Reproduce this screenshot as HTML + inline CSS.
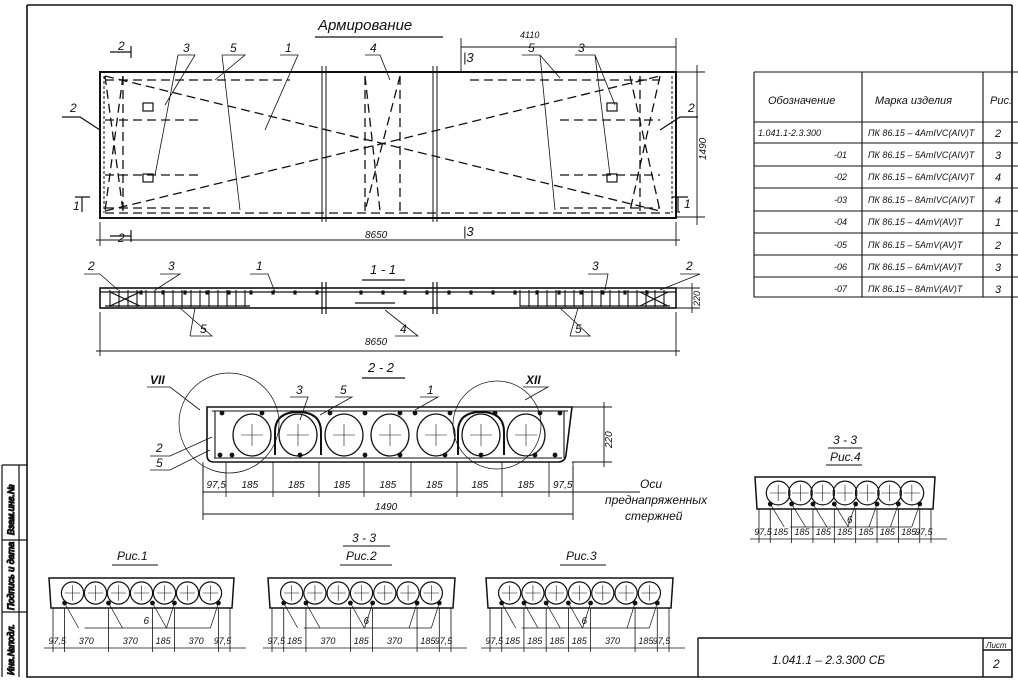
<!DOCTYPE html>
<html><head><meta charset="utf-8"><style>
html,body{margin:0;padding:0;background:#fff;width:1018px;height:685px;overflow:hidden}
svg{display:block}
text{font-family:"Liberation Sans Narrow","Liberation Sans",sans-serif;font-style:italic;fill:#111}
</style></head><body>
<svg id="s" width="1018" height="685" viewBox="0 0 1018 685" xmlns="http://www.w3.org/2000/svg" stroke="#111" fill="none" stroke-width="1.2">
<path d="M27 5 H1012 M27 5 V677 H1012 V5" stroke-width="1.6"/>
<path d="M2 465 H27 M2 465 V677 M2 540 H27 M2 612 H27 M19 465 V677" stroke-width="1.2"/>
<text x="0" y="0" font-size="9" transform="translate(14,535) rotate(-90)">Взам.инв.№</text>
<text x="0" y="0" font-size="9" transform="translate(14,610) rotate(-90)">Подпись и дата</text>
<text x="0" y="0" font-size="9" transform="translate(14,675) rotate(-90)">Инв.№подл.</text>

<text x="318" y="30" font-size="15" stroke="none">Армирование</text>
<path d="M315 37 H443"/>

<g id="plan">
<rect x="100" y="72" width="576" height="146" stroke-width="2"/>
<path d="M461 38 V72 M676 38 V72 M461 47 H676 M676 72 H705 M676 217 H705 M697 65 V225 M100 222 V246 M676 222 V246 M96 240 H680" stroke-width="0.9"/>
<path d="M322 66 V222 M326 66 V222 M433 66 V222 M437 66 V222" stroke-width="1"/>
<g stroke-dasharray="9 5" stroke-width="1.3">
<path d="M105 76 L660 211 M105 211 L660 76"/>
<path d="M105 76 L123 211 M123 76 L105 211 M630 76 L660 211 M660 76 L630 211"/>
<path d="M365 76 L380 211 M400 76 L365 211 M365 76 V211 M400 76 V211"/>
<path d="M105 80 H290 M105 120 H200 M105 175 H200 M105 208 H210 M123 76 V211 M640 76 V211"/>
<path d="M470 80 H660 M560 120 H660 M560 175 H660 M560 208 H660"/>
<path d="M105 213 H670"/>
</g>
<path d="M104 76 V213 M672 76 V213" stroke-dasharray="3 2" stroke-width="1"/>
<rect x="143" y="103" width="10" height="8"/><rect x="143" y="174" width="10" height="8"/>
<rect x="607" y="103" width="10" height="8"/><rect x="607" y="174" width="10" height="8"/>
</g>
<text x="520" y="38" font-size="9" stroke="none">4110</text>
<text x="365" y="238" font-size="10" stroke="none">8650</text>
<text x="0" y="0" font-size="10" stroke="none" transform="translate(706,160) rotate(-90)">1490</text>
<text x="463" y="62" font-size="13" stroke="none">|3</text>
<text x="463" y="236" font-size="13" stroke="none">|3</text>
<g font-size="12" stroke="none">
<text x="118" y="50">2</text><text x="183" y="52">3</text><text x="230" y="52">5</text><text x="285" y="52">1</text>
<text x="370" y="52">4</text><text x="528" y="52">5</text><text x="578" y="52">3</text>
<text x="70" y="112">2</text><text x="688" y="112">2</text><text x="73" y="210">1</text><text x="684" y="208">1</text><text x="118" y="242">2</text>
</g>
<path d="M110 52 H131 M131 46 V58 M110 236 H131 M131 230 V242 M82 197 V212 M75 197 H90 M678 197 V212 H680 M672 197 H688 M62 117 H80 L100 130 M698 117 H680 L660 130"/>
<path d="M178 55 H195 L165 105 M178 55 L155 175 M222 55 H245 L215 80 M222 55 L240 210 M280 55 H298 L265 130 M365 55 H380 L390 80 M522 55 H540 L560 78 M540 55 L555 210 M575 55 H595 L615 105 M595 55 L610 175" stroke-width="0.8"/>

<text x="370" y="274" font-size="13" stroke="none">1 - 1</text><path d="M362 280 H405"/>
<rect x="100" y="288" width="576" height="20" stroke-width="1.6"/>
<path d="M100 292 H676 M105 306 H250 M520 306 H670 M355 303 H395" stroke-width="1.3"/>
<path d="M322 282 V314 M326 282 V314 M433 282 V314 M437 282 V314" fill="none"/>
<path d="M676 288 H700 M676 308 H700 M692 283 V313 M100 312 V356 M676 312 V356 M96 351 H680" stroke-width="0.9"/>
<text x="0" y="0" font-size="9" stroke="none" transform="translate(700,306) rotate(-90)">220</text>
<text x="365" y="345" font-size="10" stroke="none">8650</text>
<g id="st" stroke-width="1.1"></g>
<path d="M110 292 L140 306 M140 292 L110 306 M640 292 L668 306 M668 292 L640 306"/>
<g font-size="12" stroke="none"><text x="88" y="270">2</text><text x="168" y="270">3</text><text x="256" y="270">1</text><text x="200" y="333">5</text><text x="400" y="333">4</text><text x="575" y="333">5</text><text x="592" y="270">3</text><text x="686" y="270">2</text></g>
<path d="M84 274 H100 L118 290 M160 274 H180 L155 290 M250 274 H268 L275 292 M190 336 H212 L180 308 M190 336 L195 308 M395 336 H418 L385 310 M570 336 H590 L560 308 M570 336 L578 308 M588 274 H608 L605 290 M680 274 H700 L660 290" stroke-width="0.8"/>

<text x="368" y="372" font-size="13" stroke="none">2 - 2</text><path d="M362 378 H405"/>
<path d="M207 407 H572 L566 455 Q565 462 558 462 H214 Q207 462 207 455 Z" stroke-width="1.6"/>
<path d="M212 411 H568 M214 458 H562 M215 411 V458 M564 411 V458" stroke-width="1.1"/>
<g id="c22"></g>
<path d="M572 407 H612 M572 462 H612 M604 402 V467" stroke-width="0.9"/>
<text x="0" y="0" font-size="10" stroke="none" transform="translate(612,448) rotate(-90)">220</text>
<path d="M203 492 H640 M203 514 H573 M203 466 V520 M573 466 V520" stroke-width="0.9"/>
<g id="d22" font-size="10" stroke="none"></g>
<text x="375" y="510" font-size="10" stroke="none">1490</text>
<g font-size="12" stroke="none"><text x="640" y="488">Оси</text><text x="605" y="504">преднапряженных</text><text x="625" y="520">стержней</text></g>
<circle cx="229" cy="423" r="50" stroke-width="0.7"/><circle cx="497" cy="425" r="44" stroke-width="0.7"/>
<g font-size="12" stroke="none"><text x="150" y="384" font-weight="bold" font-style="normal">VII</text><text x="526" y="384" font-weight="bold" font-style="normal">XII</text>
<text x="296" y="394">3</text><text x="340" y="394">5</text><text x="427" y="394">1</text><text x="156" y="452">2</text><text x="156" y="467">5</text></g>
<path d="M147 387 H170 L200 410 M523 387 H548 L525 400 M290 397 H308 L300 420 M335 397 H352 L320 415 M420 397 H438 L415 410 M150 456 H170 L212 437 M150 470 H170 L210 450" stroke-width="0.8"/>

<path d="M754 72 H1018 M754 72 V297 H1018 M862 72 V297 M983 72 V297 M754 122 H1018 M754 143 H1018 M754 166 H1018 M754 188 H1018 M754 211 H1018 M754 233 H1018 M754 255 H1018 M754 277 H1018" stroke-width="1.1"/>
<g font-size="11" stroke="none">
<text x="768" y="104">Обозначение</text><text x="875" y="104">Марка изделия</text><text x="990" y="104">Рис.</text>
<g font-size="9">
<text x="758" y="136">1.041.1-2.3.300</text>
<text x="834" y="158">-01</text><text x="834" y="180">-02</text><text x="834" y="203">-03</text><text x="834" y="225">-04</text><text x="834" y="248">-05</text><text x="834" y="270">-06</text><text x="834" y="292">-07</text>
<text x="868" y="136">ПК 86.15 – 4AтIVC(AIV)T</text>
<text x="868" y="158">ПК 86.15 – 5AтIVC(AIV)T</text>
<text x="868" y="180">ПК 86.15 – 6AтIVC(AIV)T</text>
<text x="868" y="203">ПК 86.15 – 8AтIVC(AIV)T</text>
<text x="868" y="225">ПК 86.15 – 4AтV(AV)T</text>
<text x="868" y="248">ПК 86.15 – 5AтV(AV)T</text>
<text x="868" y="270">ПК 86.15 – 6AтV(AV)T</text>
<text x="868" y="292">ПК 86.15 – 8AтV(AV)T</text>
</g>
<g font-size="11"><text x="995" y="137">2</text><text x="995" y="159">3</text><text x="995" y="181">4</text><text x="995" y="204">4</text><text x="995" y="226">1</text><text x="995" y="249">2</text><text x="995" y="271">3</text><text x="995" y="293">3</text></g>
</g>

<g font-size="12" stroke="none">
<text x="833" y="444">3 - 3</text><text x="830" y="461">Рис.4</text>
<text x="352" y="542">3 - 3</text><text x="346" y="560">Рис.2</text>
<text x="117" y="560">Рис.1</text><text x="566" y="560">Рис.3</text>
</g>
<path d="M828 448 H862 M826 465 H862 M343 546 H390 M340 565 H392 M112 565 H158 M560 565 H606" stroke-width="1"/>
<g id="small"></g>

<path d="M698 638 H1012 M698 638 V677 M983 638 V677 M983 650 H1012" stroke-width="1.4"/>
<text x="772" y="664" font-size="12" stroke="none">1.041.1 – 2.3.300 СБ</text>
<text x="986" y="648" font-size="8" stroke="none">Лист</text>
<text x="993" y="668" font-size="12" stroke="none">2</text>
</svg>
<script>
var NS="http://www.w3.org/2000/svg";
function el(p,t,a,txt){var e=document.createElementNS(NS,t);for(var k in a)e.setAttribute(k,a[k]);if(txt)e.textContent=txt;p.appendChild(e);return e;}
var st=document.getElementById('st');
for(var x=110;x<=250;x+=9)el(st,'line',{x1:x,y1:290,x2:x,y2:307});
for(var x=520;x<=668;x+=9)el(st,'line',{x1:x,y1:290,x2:x,y2:307});
for(var x=140;x<660;x+=22){if((x>318&&x<340)||(x>430&&x<442))continue;el(st,'rect',{x:x,y:291,width:2,height:3,fill:'#111'});}
var c=document.getElementById('c22');
var cx=[252,298,344,390,436,481,526];
cx.forEach(function(x){el(c,'ellipse',{cx:x,cy:435,rx:19,ry:21,'stroke-width':1.3});
el(c,'path',{d:'M'+(x-11)+' 435 H'+(x+11)+' M'+x+' 424 V446','stroke-width':0.6});});
el(c,'path',{d:'M275 455 V432 Q275 412 298 412 Q321 412 321 432 V455','stroke-width':2});
el(c,'path',{d:'M458 455 V432 Q458 412 481 412 Q504 412 504 432 V455','stroke-width':2});
[222,262,330,365,400,415,450,495,540,560].forEach(function(x){el(c,'circle',{cx:x,cy:413,r:1.8,fill:'#111'});});
[220,232,300,365,400,445,481,535,555].forEach(function(x){el(c,'circle',{cx:x,cy:455,r:1.8,fill:'#111'});});
var d=document.getElementById('d22');
var tk=[203,226,273,319,364,411,457,502,549,573];
var lb=['97,5','185','185','185','185','185','185','185','97,5'];
var g2=el(document.getElementById('s'),'g',{'stroke-width':0.8});
tk.forEach(function(x){el(g2,'line',{x1:x,y1:462,x2:x,y2:497});});
for(var i=0;i<9;i++)el(d,'text',{x:(tk[i]+tk[i+1])/2-8,y:488},lb[i]);
var sm=document.getElementById('small');
function sect(x0,y0,w,h,lbls,off){
 var n=7,r=h*0.37,cy=y0+h*0.5,sp=(w-24)/7;
 el(sm,'path',{d:'M'+x0+' '+y0+' H'+(x0+w)+' L'+(x0+w-2)+' '+(y0+h)+' H'+(x0+2)+' Z','stroke-width':1.5});
 for(var i=0;i<n;i++){var x=x0+12+sp*(i+0.5);el(sm,'circle',{cx:x,cy:cy,r:r,'stroke-width':1.2});
  el(sm,'path',{d:'M'+(x-r*0.7)+' '+cy+' H'+(x+r*0.7)+' M'+x+' '+(cy-r*0.7)+' V'+(cy+r*0.7),'stroke-width':0.6});}
 var ys=y0+h-5, dy=y0+h+off;
 var unit=(w-8)/1490, xs=[x0+4], acc=0;
 lbls.forEach(function(l){acc+=parseFloat(l.replace(',','.'));xs.push(x0+4+acc*unit);});
 xs.forEach(function(x,i){el(sm,'line',{x1:x,y1:y0+h,x2:x,y2:dy+4,'stroke-width':0.8});
   if(i>0&&i<xs.length-1)el(sm,'circle',{cx:x,cy:ys,r:1.8,fill:'#111'});});
 el(sm,'line',{x1:x0-5,y1:dy,x2:x0+w+12,y2:dy,'stroke-width':0.8});
 for(var i=0;i<lbls.length;i++){el(sm,'text',{x:(xs[i]+xs[i+1])/2-(lbls[i].length*2.6),y:dy-4,'font-size':9,stroke:'none'},lbls[i]);}
 var by=dy-(off>30?20:12), mid=x0+w/2;
 el(sm,'text',{x:mid+2,y:by-4,'font-size':10,stroke:'none'},'6');
 el(sm,'line',{x1:xs[1]+20,y1:by,x2:xs[xs.length-2]-8,y2:by,'stroke-width':0.8});
 for(var i=1;i<xs.length-1;i++)el(sm,'line',{x1:xs[i],y1:ys,x2:xs[i]+(i<xs.length/2?14:-8),y2:by,'stroke-width':0.7});
}
sect(49,578,185,30,['97,5','370','370','185','370','97,5'],40);
sect(268,578,187,30,['97,5','185','370','185','370','185','97,5'],40);
sect(486,578,187,30,['97,5','185','185','185','185','370','185','97,5'],40);
sect(755,477,180,32,['97,5','185','185','185','185','185','185','185','97,5'],30);
</script>
</body></html>
